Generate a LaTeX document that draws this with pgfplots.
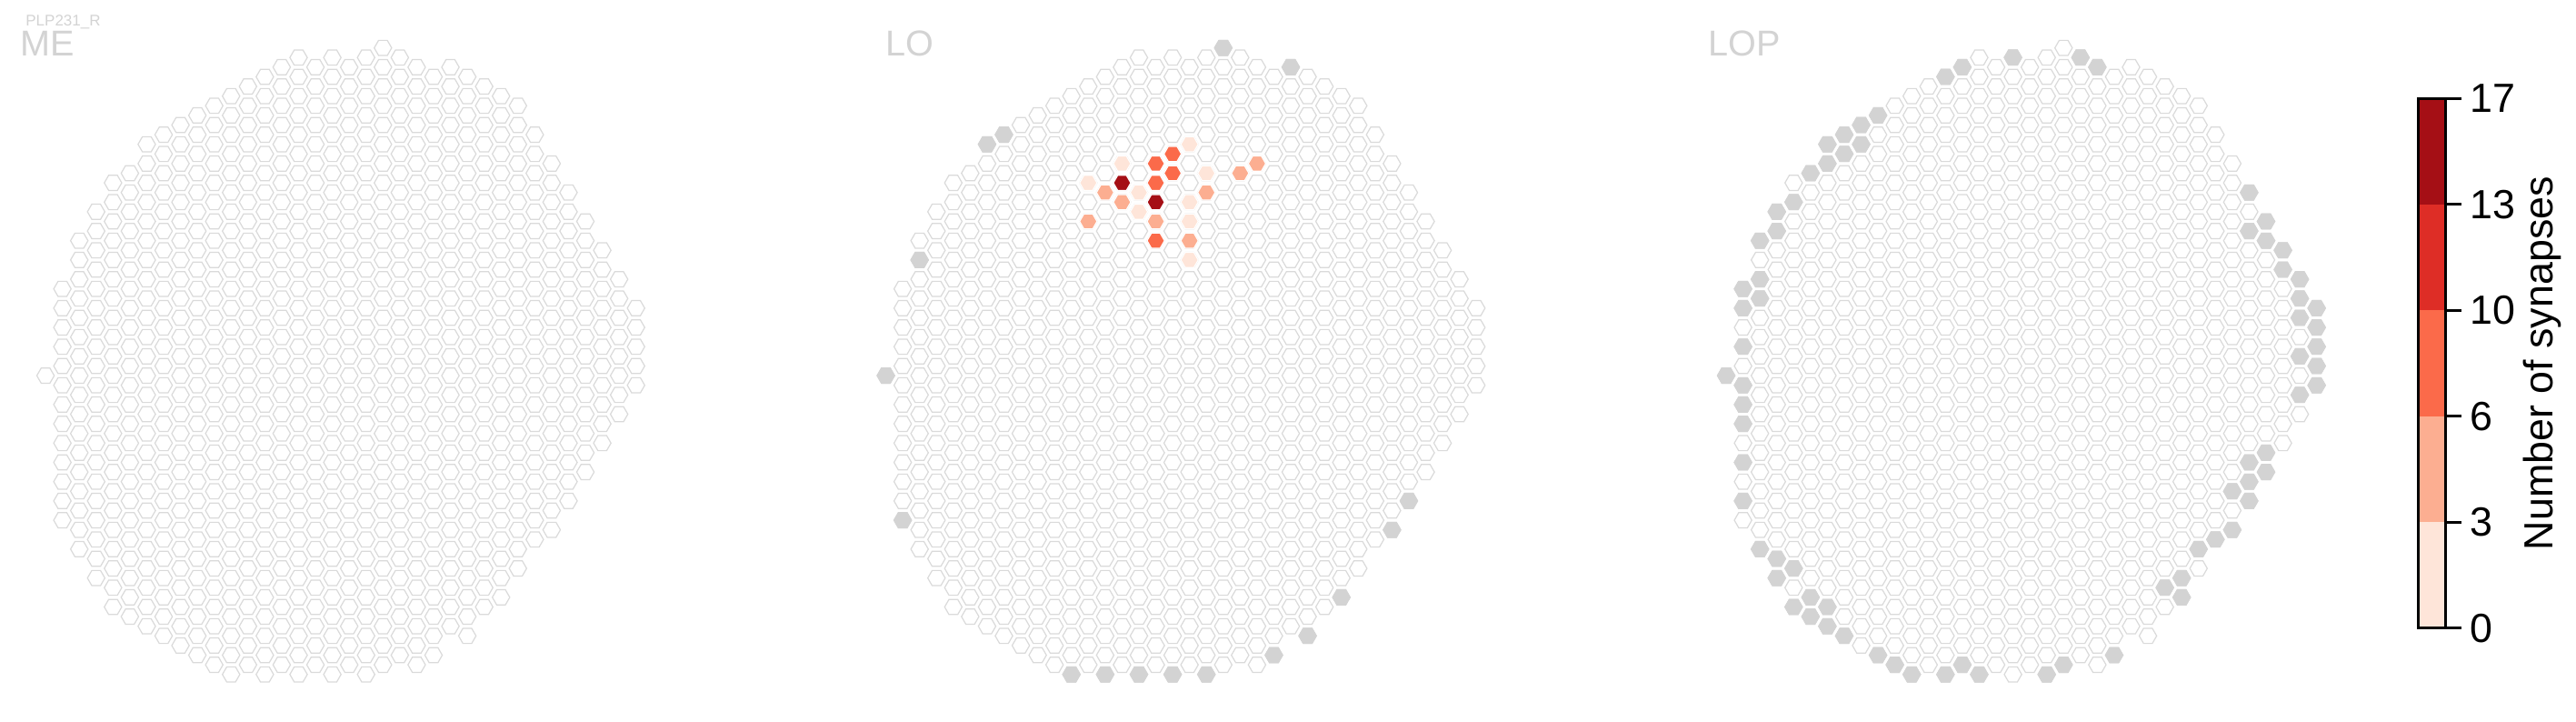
\documentclass[border=0pt]{standalone}
\usepackage{fontspec}
\setmainfont{Liberation Sans}
\usepackage{pgfplots}
\usepackage{pgfplotstable}
\pgfplotsset{compat=1.18}
\definecolor{hexline}{HTML}{DADADA}
\definecolor{hexgray}{HTML}{D3D3D3}
\definecolor{titlegray}{HTML}{D3D3D3}
\definecolor{rA}{HTML}{FEE5D9}
\definecolor{rB}{HTML}{FCAE91}
\definecolor{rC}{HTML}{FB6A4A}
\definecolor{rD}{HTML}{DE2D26}
\definecolor{rE}{HTML}{A50F15}
\pgfdeclareplotmark{hex}{%
 \pgfpathmoveto{\pgfqpoint{\pgfplotmarksize}{0pt}}%
 \pgfpathlineto{\pgfqpoint{0.5\pgfplotmarksize}{0.8660254\pgfplotmarksize}}%
 \pgfpathlineto{\pgfqpoint{-0.5\pgfplotmarksize}{0.8660254\pgfplotmarksize}}%
 \pgfpathlineto{\pgfqpoint{-\pgfplotmarksize}{0pt}}%
 \pgfpathlineto{\pgfqpoint{-0.5\pgfplotmarksize}{-0.8660254\pgfplotmarksize}}%
 \pgfpathlineto{\pgfqpoint{0.5\pgfplotmarksize}{-0.8660254\pgfplotmarksize}}%
 \pgfpathclose
 \pgfusepathqfillstroke}
\def\LOoff{49.81}
\def\LOPoff{99.62}
% all hexagon positions: column c, half-row j (downwards)
\pgfplotstableread[row sep=\\]{c j\\
0 34\\
1 25\\1 27\\1 29\\1 31\\1 33\\1 35\\1 37\\1 39\\1 41\\1 43\\1 45\\1 47\\1 49\\
2 20\\2 22\\2 24\\2 26\\2 28\\2 30\\2 32\\2 34\\2 36\\2 38\\2 40\\2 42\\2 44\\2 46\\2 48\\2 50\\2 52\\
3 17\\3 19\\3 21\\3 23\\3 25\\3 27\\3 29\\3 31\\3 33\\3 35\\3 37\\3 39\\3 41\\3 43\\3 45\\3 47\\3 49\\3 51\\3 53\\3 55\\
4 14\\4 16\\4 18\\4 20\\4 22\\4 24\\4 26\\4 28\\4 30\\4 32\\4 34\\4 36\\4 38\\4 40\\4 42\\4 44\\4 46\\4 48\\4 50\\4 52\\4 54\\4 56\\4 58\\
5 13\\5 15\\5 17\\5 19\\5 21\\5 23\\5 25\\5 27\\5 29\\5 31\\5 33\\5 35\\5 37\\5 39\\5 41\\5 43\\5 45\\5 47\\5 49\\5 51\\5 53\\5 55\\5 57\\5 59\\
6 10\\6 12\\6 14\\6 16\\6 18\\6 20\\6 22\\6 24\\6 26\\6 28\\6 30\\6 32\\6 34\\6 36\\6 38\\6 40\\6 42\\6 44\\6 46\\6 48\\6 50\\6 52\\6 54\\6 56\\6 58\\6 60\\
7 9\\7 11\\7 13\\7 15\\7 17\\7 19\\7 21\\7 23\\7 25\\7 27\\7 29\\7 31\\7 33\\7 35\\7 37\\7 39\\7 41\\7 43\\7 45\\7 47\\7 49\\7 51\\7 53\\7 55\\7 57\\7 59\\7 61\\
8 8\\8 10\\8 12\\8 14\\8 16\\8 18\\8 20\\8 22\\8 24\\8 26\\8 28\\8 30\\8 32\\8 34\\8 36\\8 38\\8 40\\8 42\\8 44\\8 46\\8 48\\8 50\\8 52\\8 54\\8 56\\8 58\\8 60\\8 62\\
9 7\\9 9\\9 11\\9 13\\9 15\\9 17\\9 19\\9 21\\9 23\\9 25\\9 27\\9 29\\9 31\\9 33\\9 35\\9 37\\9 39\\9 41\\9 43\\9 45\\9 47\\9 49\\9 51\\9 53\\9 55\\9 57\\9 59\\9 61\\9 63\\
10 6\\10 8\\10 10\\10 12\\10 14\\10 16\\10 18\\10 20\\10 22\\10 24\\10 26\\10 28\\10 30\\10 32\\10 34\\10 36\\10 38\\10 40\\10 42\\10 44\\10 46\\10 48\\10 50\\10 52\\10 54\\10 56\\10 58\\10 60\\10 62\\10 64\\
11 5\\11 7\\11 9\\11 11\\11 13\\11 15\\11 17\\11 19\\11 21\\11 23\\11 25\\11 27\\11 29\\11 31\\11 33\\11 35\\11 37\\11 39\\11 41\\11 43\\11 45\\11 47\\11 49\\11 51\\11 53\\11 55\\11 57\\11 59\\11 61\\11 63\\11 65\\
12 4\\12 6\\12 8\\12 10\\12 12\\12 14\\12 16\\12 18\\12 20\\12 22\\12 24\\12 26\\12 28\\12 30\\12 32\\12 34\\12 36\\12 38\\12 40\\12 42\\12 44\\12 46\\12 48\\12 50\\12 52\\12 54\\12 56\\12 58\\12 60\\12 62\\12 64\\
13 3\\13 5\\13 7\\13 9\\13 11\\13 13\\13 15\\13 17\\13 19\\13 21\\13 23\\13 25\\13 27\\13 29\\13 31\\13 33\\13 35\\13 37\\13 39\\13 41\\13 43\\13 45\\13 47\\13 49\\13 51\\13 53\\13 55\\13 57\\13 59\\13 61\\13 63\\13 65\\
14 2\\14 4\\14 6\\14 8\\14 10\\14 12\\14 14\\14 16\\14 18\\14 20\\14 22\\14 24\\14 26\\14 28\\14 30\\14 32\\14 34\\14 36\\14 38\\14 40\\14 42\\14 44\\14 46\\14 48\\14 50\\14 52\\14 54\\14 56\\14 58\\14 60\\14 62\\14 64\\
15 1\\15 3\\15 5\\15 7\\15 9\\15 11\\15 13\\15 15\\15 17\\15 19\\15 21\\15 23\\15 25\\15 27\\15 29\\15 31\\15 33\\15 35\\15 37\\15 39\\15 41\\15 43\\15 45\\15 47\\15 49\\15 51\\15 53\\15 55\\15 57\\15 59\\15 61\\15 63\\15 65\\
16 2\\16 4\\16 6\\16 8\\16 10\\16 12\\16 14\\16 16\\16 18\\16 20\\16 22\\16 24\\16 26\\16 28\\16 30\\16 32\\16 34\\16 36\\16 38\\16 40\\16 42\\16 44\\16 46\\16 48\\16 50\\16 52\\16 54\\16 56\\16 58\\16 60\\16 62\\16 64\\
17 1\\17 3\\17 5\\17 7\\17 9\\17 11\\17 13\\17 15\\17 17\\17 19\\17 21\\17 23\\17 25\\17 27\\17 29\\17 31\\17 33\\17 35\\17 37\\17 39\\17 41\\17 43\\17 45\\17 47\\17 49\\17 51\\17 53\\17 55\\17 57\\17 59\\17 61\\17 63\\17 65\\
18 2\\18 4\\18 6\\18 8\\18 10\\18 12\\18 14\\18 16\\18 18\\18 20\\18 22\\18 24\\18 26\\18 28\\18 30\\18 32\\18 34\\18 36\\18 38\\18 40\\18 42\\18 44\\18 46\\18 48\\18 50\\18 52\\18 54\\18 56\\18 58\\18 60\\18 62\\18 64\\
19 1\\19 3\\19 5\\19 7\\19 9\\19 11\\19 13\\19 15\\19 17\\19 19\\19 21\\19 23\\19 25\\19 27\\19 29\\19 31\\19 33\\19 35\\19 37\\19 39\\19 41\\19 43\\19 45\\19 47\\19 49\\19 51\\19 53\\19 55\\19 57\\19 59\\19 61\\19 63\\19 65\\
20 0\\20 2\\20 4\\20 6\\20 8\\20 10\\20 12\\20 14\\20 16\\20 18\\20 20\\20 22\\20 24\\20 26\\20 28\\20 30\\20 32\\20 34\\20 36\\20 38\\20 40\\20 42\\20 44\\20 46\\20 48\\20 50\\20 52\\20 54\\20 56\\20 58\\20 60\\20 62\\20 64\\
21 1\\21 3\\21 5\\21 7\\21 9\\21 11\\21 13\\21 15\\21 17\\21 19\\21 21\\21 23\\21 25\\21 27\\21 29\\21 31\\21 33\\21 35\\21 37\\21 39\\21 41\\21 43\\21 45\\21 47\\21 49\\21 51\\21 53\\21 55\\21 57\\21 59\\21 61\\21 63\\
22 2\\22 4\\22 6\\22 8\\22 10\\22 12\\22 14\\22 16\\22 18\\22 20\\22 22\\22 24\\22 26\\22 28\\22 30\\22 32\\22 34\\22 36\\22 38\\22 40\\22 42\\22 44\\22 46\\22 48\\22 50\\22 52\\22 54\\22 56\\22 58\\22 60\\22 62\\22 64\\
23 3\\23 5\\23 7\\23 9\\23 11\\23 13\\23 15\\23 17\\23 19\\23 21\\23 23\\23 25\\23 27\\23 29\\23 31\\23 33\\23 35\\23 37\\23 39\\23 41\\23 43\\23 45\\23 47\\23 49\\23 51\\23 53\\23 55\\23 57\\23 59\\23 61\\23 63\\
24 2\\24 4\\24 6\\24 8\\24 10\\24 12\\24 14\\24 16\\24 18\\24 20\\24 22\\24 24\\24 26\\24 28\\24 30\\24 32\\24 34\\24 36\\24 38\\24 40\\24 42\\24 44\\24 46\\24 48\\24 50\\24 52\\24 54\\24 56\\24 58\\24 60\\
25 3\\25 5\\25 7\\25 9\\25 11\\25 13\\25 15\\25 17\\25 19\\25 21\\25 23\\25 25\\25 27\\25 29\\25 31\\25 33\\25 35\\25 37\\25 39\\25 41\\25 43\\25 45\\25 47\\25 49\\25 51\\25 53\\25 55\\25 57\\25 59\\25 61\\
26 4\\26 6\\26 8\\26 10\\26 12\\26 14\\26 16\\26 18\\26 20\\26 22\\26 24\\26 26\\26 28\\26 30\\26 32\\26 34\\26 36\\26 38\\26 40\\26 42\\26 44\\26 46\\26 48\\26 50\\26 52\\26 54\\26 56\\26 58\\
27 5\\27 7\\27 9\\27 11\\27 13\\27 15\\27 17\\27 19\\27 21\\27 23\\27 25\\27 27\\27 29\\27 31\\27 33\\27 35\\27 37\\27 39\\27 41\\27 43\\27 45\\27 47\\27 49\\27 51\\27 53\\27 55\\27 57\\
28 6\\28 8\\28 10\\28 12\\28 14\\28 16\\28 18\\28 20\\28 22\\28 24\\28 26\\28 28\\28 30\\28 32\\28 34\\28 36\\28 38\\28 40\\28 42\\28 44\\28 46\\28 48\\28 50\\28 52\\28 54\\
29 9\\29 11\\29 13\\29 15\\29 17\\29 19\\29 21\\29 23\\29 25\\29 27\\29 29\\29 31\\29 33\\29 35\\29 37\\29 39\\29 41\\29 43\\29 45\\29 47\\29 49\\29 51\\
30 12\\30 14\\30 16\\30 18\\30 20\\30 22\\30 24\\30 26\\30 28\\30 30\\30 32\\30 34\\30 36\\30 38\\30 40\\30 42\\30 44\\30 46\\30 48\\30 50\\
31 15\\31 17\\31 19\\31 21\\31 23\\31 25\\31 27\\31 29\\31 31\\31 33\\31 35\\31 37\\31 39\\31 41\\31 43\\31 45\\31 47\\
32 18\\32 20\\32 22\\32 24\\32 26\\32 28\\32 30\\32 32\\32 34\\32 36\\32 38\\32 40\\32 42\\32 44\\
33 21\\33 23\\33 25\\33 27\\33 29\\33 31\\33 33\\33 35\\33 37\\33 39\\33 41\\
34 24\\34 26\\34 28\\34 30\\34 32\\34 34\\34 36\\34 38\\
35 27\\35 29\\35 31\\35 33\\35 35\\
}\hexpos
% LO: columns without innervation (grey)
\pgfplotstableread[row sep=\\]{c j\\
20 0\\24 2\\7 9\\6 10\\2 22\\0 34\\1 49\\31 47\\30 50\\27 57\\25 61\\23 63\\19 65\\17 65\\15 65\\13 65\\11 65\\
}\logray
% LOP: grey columns
\pgfplotstableread[row sep=\\]{c j\\
17 1\\21 1\\22 2\\14 2\\13 3\\9 7\\8 8\\7 9\\8 10\\6 10\\7 11\\6 12\\5 13\\4 16\\3 17\\3 19\\2 20\\2 24\\1 25\\2 26\\1 27\\1 31\\0 34\\1 35\\1 37\\1 39\\1 43\\1 47\\2 52\\3 53\\4 54\\3 55\\5 57\\4 58\\6 58\\5 59\\6 60\\7 61\\9 63\\10 64\\11 65\\13 65\\14 64\\15 65\\19 65\\20 64\\23 63\\
31 15\\32 18\\31 19\\32 20\\33 21\\33 23\\34 24\\34 26\\35 27\\34 28\\35 29\\35 31\\34 32\\35 33\\35 35\\34 36\\32 42\\31 43\\32 44\\31 45\\30 46\\31 47\\30 50\\29 51\\28 52\\27 55\\26 56\\27 57\\
}\lopgray
% LO synapse counts, binned: 1 = 0-3, 2 = 3-6, 3 = 6-10, 4 = 10-13, 5 = 13-17
\pgfplotstableread[row sep=\\]{c j\\ 18 10\\ 14 12\\ 12 14\\ 15 15\\ 15 17\\ 18 16\\ 18 18\\ 18 22\\ 19 13\\}\loA
\pgfplotstableread[row sep=\\]{c j\\ 13 15\\ 14 16\\ 16 18\\ 18 20\\ 19 15\\ 21 13\\ 22 12\\ 12 18\\}\loB
\pgfplotstableread[row sep=\\]{c j\\ 17 11\\ 16 12\\ 17 13\\ 16 14\\ 16 20\\}\loC
\pgfplotstableread[row sep=\\]{c j\\ 14 14\\ 16 16\\}\loE
\begin{document}
\begin{tikzpicture}
\useasboundingbox (0,0) rectangle (708.5pt,198.25pt);
\begin{axis}[
  at={(0pt,0pt)}, anchor=south west,
  scale only axis, width=708.5pt, height=198.25pt,
  xmin=-2.6994, xmax=149.995, ymin=-69.84, ymax=4.972,
  hide axis, clip=false,
  hexbase/.style={only marks, mark=hex, mark size=2.4pt},
]
\addplot[hexbase, mark options={fill=white, draw=hexline, line width=0.3pt}] table[x=c, y expr=-\thisrow{j}] {\hexpos};
\addplot[hexbase, mark options={fill=white, draw=hexline, line width=0.3pt}] table[x expr=\thisrow{c}+\LOoff, y expr=-\thisrow{j}] {\hexpos};
\addplot[hexbase, mark options={fill=white, draw=hexline, line width=0.3pt}] table[x expr=\thisrow{c}+\LOPoff, y expr=-\thisrow{j}] {\hexpos};
\addplot[hexbase, mark options={fill=hexgray, draw=hexgray, line width=0.3pt}] table[x expr=\thisrow{c}+\LOoff, y expr=-\thisrow{j}] {\logray};
\addplot[hexbase, mark options={fill=hexgray, draw=hexgray, line width=0.3pt}] table[x expr=\thisrow{c}+\LOPoff, y expr=-\thisrow{j}] {\lopgray};
\addplot[hexbase, mark options={fill=rA, draw=white, line width=0.3pt}] table[x expr=\thisrow{c}+\LOoff, y expr=-\thisrow{j}] {\loA};
\addplot[hexbase, mark options={fill=rB, draw=white, line width=0.3pt}] table[x expr=\thisrow{c}+\LOoff, y expr=-\thisrow{j}] {\loB};
\addplot[hexbase, mark options={fill=rC, draw=white, line width=0.3pt}] table[x expr=\thisrow{c}+\LOoff, y expr=-\thisrow{j}] {\loC};
\addplot[hexbase, mark options={fill=rE, draw=white, line width=0.3pt}] table[x expr=\thisrow{c}+\LOoff, y expr=-\thisrow{j}] {\loE};
\end{axis}
% colour bar
\begin{axis}[
  at={(665pt,25.575pt)}, anchor=south west,
  scale only axis, width=7.675pt, height=145.55pt,
  xmin=0, xmax=1, ymin=0, ymax=5,
  axis on top,
  axis line style={line width=0.75pt, black},
  xtick=\empty,
  ytick={0,1,2,3,4,5}, yticklabels={0,3,6,10,13,17},
  ytick pos=right, yticklabel pos=right,
  tick align=outside, major tick length=4.25pt,
  tick style={line width=0.75pt, black},
  yticklabel style={font=\fontsize{11.2}{13}\selectfont, inner sep=1.5pt, xshift=0.8pt},
]
\addplot[fill=rA, draw=none] coordinates {(0,0) (1,0) (1,1) (0,1)} -- cycle;
\addplot[fill=rB, draw=none] coordinates {(0,1) (1,1) (1,2) (0,2)} -- cycle;
\addplot[fill=rC, draw=none] coordinates {(0,2) (1,2) (1,3) (0,3)} -- cycle;
\addplot[fill=rD, draw=none] coordinates {(0,3) (1,3) (1,4) (0,4)} -- cycle;
\addplot[fill=rE, draw=none] coordinates {(0,4) (1,4) (1,5) (0,5)} -- cycle;
\end{axis}
\node[rotate=90, inner sep=0pt, font=\fontsize{11.2}{13}\selectfont] at (699.25pt,98.35pt) {Number of synapses};
% titles
\node[anchor=base west, inner sep=0pt, text=titlegray, font=\fontsize{4.25}{5}\selectfont] at (6.9pt,191.2pt) {PLP231\_R};
\node[anchor=base west, inner sep=0pt, text=titlegray, font=\fontsize{9.9}{11}\selectfont] at (5.5pt,182.8pt) {ME};
\node[anchor=base west, inner sep=0pt, text=titlegray, font=\fontsize{9.9}{11}\selectfont] at (243.3pt,182.8pt) {LO};
\node[anchor=base west, inner sep=0pt, text=titlegray, font=\fontsize{9.9}{11}\selectfont] at (469.7pt,182.8pt) {LOP};
\end{tikzpicture}
\end{document}
